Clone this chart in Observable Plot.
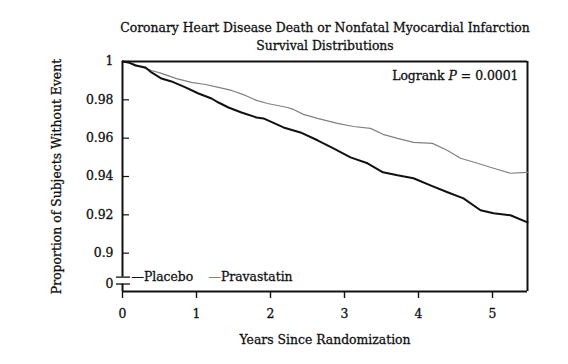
<!DOCTYPE html>
<html><head><meta charset="utf-8">
<script src="https://cdn.jsdelivr.net/npm/d3@7"></script>
<script src="https://cdn.jsdelivr.net/npm/@observablehq/plot@0.6"></script>
<style>body{margin:0;background:#fff}svg{display:block}svg text{stroke:#111;stroke-width:0.3px}</style>
</head><body><div id="chart"></div>
<script>
// Kaplan-Meier curves
const placeboYears = [0,0.081,0.176,0.311,0.392,0.527,0.662,0.851,1.027,1.203,1.297,1.432,1.608,1.811,1.905,2.176,2.405,2.635,2.851,3.081,3.311,3.52,3.716,3.932,4.162,4.392,4.608,4.838,5.014,5.243,5.473];
const placeboSurv  = [1,0.9995,0.9979,0.9969,0.9943,0.9911,0.9896,0.9865,0.9833,0.9807,0.9786,0.9760,0.9734,0.9708,0.9703,0.9656,0.9630,0.9589,0.9547,0.9500,0.9469,0.9422,0.9406,0.9391,0.9354,0.9318,0.9286,0.9224,0.9208,0.9198,0.9161];
const pravaYears = [0,0.122,0.311,0.392,0.527,0.730,0.932,1.122,1.297,1.473,1.662,1.811,1.959,2.230,2.311,2.446,2.635,2.905,3.122,3.351,3.52,3.716,3.932,4.189,4.392,4.568,4.797,5.014,5.243,5.473];
const pravaSurv  = [1,0.9990,0.9964,0.9953,0.9938,0.9911,0.9891,0.9880,0.9865,0.9849,0.9823,0.9797,0.9781,0.9760,0.9750,0.9724,0.9703,0.9677,0.9661,0.9651,0.9620,0.9599,0.9578,0.9573,0.9536,0.9495,0.9469,0.9443,0.9417,0.9422];

const seriesNames = ["Placebo","Pravastatin"];
const seriesColors = ["#111","#808080"];
const seriesWidths = [2,1.2];

const yTickValues = [1,0.98,0.96,0.94,0.92,0.9];
const yTickLabels = ["1","0.98","0.96","0.94","0.92","0.9"];
const zeroLabel = "0";
const breakPositions = [0.8875,0.8839]; // broken axis; lower line is labelled "0"
const xTickValues = [0,1,2,3,4,5];
const xDomain = [0,5.473];
const yDomain = [0.88,1];

const titleLines = ["Coronary Heart Disease Death or Nonfatal Myocardial Infarction","Survival Distributions"];
const xLabel = "Years Since Randomization";
const yLabel = "Proportion of Subjects Without Event";
const logrank = ["Logrank ","P"," = 0.0001"];

const rows = [];
placeboYears.forEach((t,i)=>rows.push({t, s:placeboSurv[i], g:seriesNames[0]}));
pravaYears.forEach((t,i)=>rows.push({t, s:pravaSurv[i], g:seriesNames[1]}));

const allYTicks = [...yTickValues, breakPositions[1]];
const allYLabels = [...yTickLabels, zeroLabel];
const FONT = "DejaVu Serif";
const FS = 12.4;

const plot = Plot.plot({
  width:568, height:364,
  marginLeft:122, marginRight:41, marginTop:61, marginBottom:73,
  style:{fontFamily:FONT, fontSize:FS+"px", color:"#111", background:"#fff"},
  x:{domain:xDomain, label:null},
  y:{domain:yDomain, label:null},
  marks:[
    // frame: top, right, bottom
    Plot.ruleY([yDomain[1]], {stroke:"#111", strokeWidth:2}),
    Plot.ruleY([yDomain[0]], {stroke:"#111", strokeWidth:2}),
    Plot.ruleX([xDomain[1]], {stroke:"#111", strokeWidth:2}),
    // left axis, broken
    Plot.ruleX([0], {y1:breakPositions[0], y2:yDomain[1], stroke:"#111", strokeWidth:2}),
    Plot.ruleX([0], {y1:yDomain[0], y2:breakPositions[1], stroke:"#111", strokeWidth:2}),
    Plot.ruleY(breakPositions, {x1:0, x2:0, insetLeft:-6, insetRight:-8, stroke:"#111", strokeWidth:1.3}),
    // inward y ticks
    Plot.ruleY(yTickValues, {x1:0, x2:0, insetRight:-7, stroke:"#111", strokeWidth:1.2}),
    Plot.axisX({ticks:xTickValues, tickSize:7, tickPadding:11, tickFormat:d=>String(d), stroke:"#111", strokeWidth:1.4, fontSize:FS}),
    Plot.axisY({ticks:allYTicks, tickSize:0, tickPadding:9, tickFormat:d=>allYLabels[allYTicks.indexOf(d)], fontSize:FS}),
    Plot.line(rows.filter(d=>d.g===seriesNames[1]), {x:"t", y:"s", stroke:seriesColors[1], strokeWidth:seriesWidths[1]}),
    Plot.line(rows.filter(d=>d.g===seriesNames[0]), {x:"t", y:"s", stroke:seriesColors[0], strokeWidth:seriesWidths[0]}),
    Plot.text([titleLines[0]], {frameAnchor:"top", dy:-38, fontSize:FS}),
    Plot.text([titleLines[1]], {frameAnchor:"top", dy:-20, fontSize:FS}),
    Plot.text([xLabel], {frameAnchor:"bottom", dy:52, fontSize:FS}),
    Plot.text([yLabel], {frameAnchor:"left", textAnchor:"middle", dx:-65, rotate:-90, fontSize:FS}),
    Plot.text([logrank.join("")], {frameAnchor:"top-right", textAnchor:"end", dx:-9, dy:10, fontSize:FS, className:"logrank"}),
    Plot.text(["\u2014" + seriesNames[0]], {frameAnchor:"bottom-left", textAnchor:"start", dx:9, dy:-11, fontSize:FS}),
    Plot.text(["\u2014" + seriesNames[1]], {frameAnchor:"bottom-left", textAnchor:"start", dx:86, dy:-11, fontSize:FS, className:"leg2"})
  ]
});
document.getElementById("chart").appendChild(plot);
// italic P in the logrank note
d3.select(plot).selectAll("g.logrank text").each(function(){
  const t = d3.select(this); t.text(null);
  t.append("tspan").text(logrank[0]);
  t.append("tspan").attr("font-style","italic").text(logrank[1]);
  t.append("tspan").text(logrank[2]);
});
// grey dash for the Pravastatin legend entry
d3.select(plot).selectAll("g.leg2 text").each(function(){
  const t = d3.select(this); t.text(null);
  t.append("tspan").attr("fill",seriesColors[1]).style("stroke",seriesColors[1]).text("\u2014");
  t.append("tspan").text(seriesNames[1]);
});
</script></body></html>
